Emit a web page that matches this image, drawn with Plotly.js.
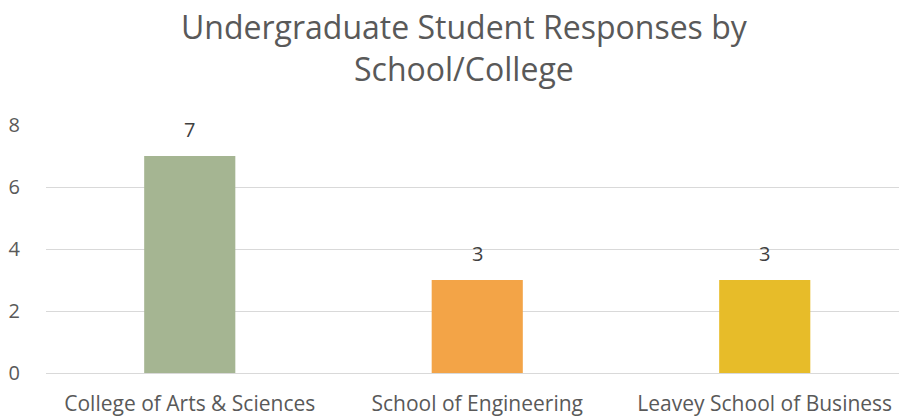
<!DOCTYPE html>
<html>
<head>
<meta charset="utf-8">
<script src="https://cdn.plot.ly/plotly-3.0.1.min.js"></script>
<style>html,body{margin:0;padding:0;background:#fff;}#chart{width:899px;height:417px;}</style>
</head>
<body>
<div id="chart"></div>
<script>
const categories = ["College of Arts & Sciences", "School of Engineering", "Leavey School of Business"];
const responses = [7, 3, 3];
const barColors = ["#A5B592", "#F3A447", "#E7BC29"];
const yTicks = [0, 2, 4, 6, 8];

const FONT = "Open Sans, sans-serif";

const trace = {
  type: "bar",
  x: categories,
  y: responses,
  marker: {color: barColors},
  width: 0.317,
  hoverinfo: "none"
};

const annotations = categories.map((c, i) => ({
  x: c, y: responses[i], xref: "x", yref: "y",
  text: String(responses[i]),
  showarrow: false,
  yanchor: "bottom",
  yshift: 11,
  font: {family: FONT, size: 20, color: "#404040"}
}));

const layout = {
  width: 899,
  height: 417,
  margin: {l: 46, r: 0, t: 125, b: 44},
  paper_bgcolor: "#fff",
  plot_bgcolor: "#fff",
  showlegend: false,
  annotations: annotations,
  title: {
    text: "Undergraduate Student Responses by<br>School/College",
    font: {family: FONT, size: 32, color: "#595959"},
    xref: "container", yref: "container",
    x: 0.516, xanchor: "center",
    y: 0.906, yanchor: "top"
  },
  xaxis: {
    range: [-0.5, 2.467],
    showgrid: false,
    zeroline: false,
    showline: false,
    ticks: "outside",
    ticklen: 12,
    tickcolor: "rgba(0,0,0,0)",
    tickfont: {family: FONT, size: 21, color: "#595959"},
    fixedrange: true
  },
  yaxis: {
    range: [0, 8],
    tickvals: yTicks,
    ticktext: yTicks.map(String),
    showgrid: true,
    gridcolor: "#D9D9D9",
    gridwidth: 1,
    zeroline: true,
    zerolinecolor: "#D9D9D9",
    zerolinewidth: 1,
    showline: false,
    ticks: "outside",
    ticklen: 21,
    tickcolor: "rgba(0,0,0,0)",
    tickfont: {family: FONT, size: 20, color: "#595959"},
    fixedrange: true
  }
};

Plotly.newPlot("chart", [trace], layout, {displayModeBar: false, staticPlot: true});
</script>
</body>
</html>
